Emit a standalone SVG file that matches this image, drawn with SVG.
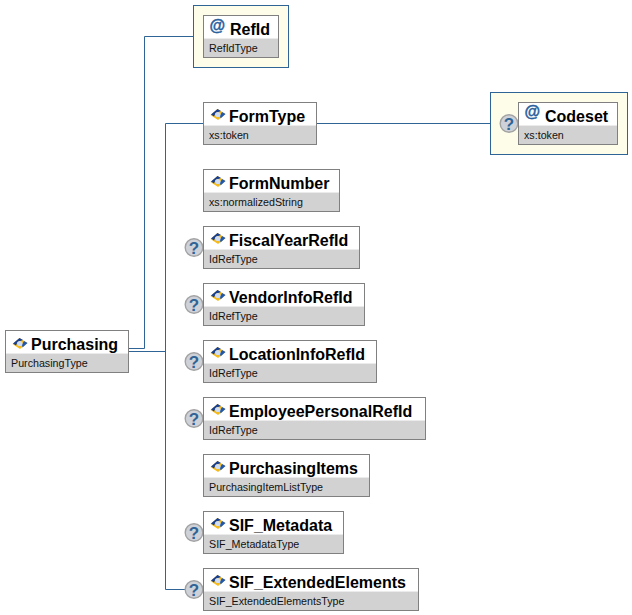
<svg xmlns="http://www.w3.org/2000/svg" width="632" height="615" viewBox="0 0 632 615">
<defs>
<style>
.conn{fill:none;stroke:#2f6496;stroke-width:1}
.attrbox{fill:#fdfdea;stroke:#2f6496;stroke-width:1}
.box{fill:#fff;stroke:#808080;stroke-width:1}
.band{fill:#d2d2d2}
.sep{fill:#ebebeb}
.name{font:bold 16px "Liberation Sans",Arial,sans-serif;fill:#000}
.type{font:10.700px "Liberation Sans",Arial,sans-serif;fill:#111}
.at{font:bold 16px "Liberation Sans",Arial,sans-serif;fill:#28609c;stroke:#28609c;stroke-width:.4}
.q{font:bold 17px "Liberation Sans",Arial,sans-serif;fill:#2f6496;text-anchor:middle}
</style>
<g id="icon">
<path d="M0 6 L7 0 L15 5 L7.500 11Z" fill="#f6bc1e"/>
<path d="M0.500 5.500 L7 0 L10.500 2 L5 4 L3.500 7.500Z" fill="#173f92"/>
<path d="M15 5 L10 9.500 L9.500 6.500 L11.500 3Z" fill="#1f58b0"/>
<circle cx="7.300" cy="5.500" r="2.600" fill="#cfdcf2"/>
</g>
<g id="qm">
<circle cx="0" cy="0" r="8.800" fill="#ced2d8" stroke="#a2a2a2" stroke-width="1.400"/>
<text class="q" x="0" y="6">?</text>
</g>
</defs>
<g id="connectors">
<path class="conn" d="M128.500 348.500H144.500V36.500H193.500"/>
<path class="conn" d="M128.500 351.500H165.500M203.500 123.500H165.500V589.500H186"/>
<path class="conn" d="M316.500 123.500H490.500"/>
</g>
<g id="node-purchasing">
<rect class="box" x="5.500" y="330.500" width="123" height="42"/>
<rect class="band" x="6" y="354" width="122" height="18"/><rect class="sep" x="6" y="353" width="122" height="1"/>
<use href="#icon" x="12.500" y="338"/>
<text class="name" x="31" y="350">Purchasing</text>
<text class="type" x="11" y="367">PurchasingType</text>
</g>
<g id="node-refid">
<rect class="attrbox" x="193.500" y="5.500" width="95" height="62"/>
<rect class="box" x="203.500" y="15.500" width="75" height="42"/>
<rect class="band" x="204" y="39" width="74" height="18"/><rect class="sep" x="204" y="38" width="74" height="1"/>
<text class="at" x="209.500" y="31">@</text>
<text class="name" x="230" y="35">RefId</text>
<text class="type" x="209" y="52">RefIdType</text>
</g>
<g id="node-formtype">
<rect class="box" x="203.500" y="102.500" width="113" height="42"/>
<rect class="band" x="204" y="126" width="112" height="18"/><rect class="sep" x="204" y="125" width="112" height="1"/>
<use href="#icon" x="210.500" y="109"/>
<text class="name" x="229" y="122">FormType</text>
<text class="type" x="209" y="139">xs:token</text>
</g>
<g id="node-codeset">
<rect class="attrbox" x="490.500" y="92.500" width="137" height="62"/>
<use href="#qm" x="509" y="123.500"/>
<rect class="box" x="518.500" y="102.500" width="99" height="42"/>
<rect class="band" x="519" y="126" width="98" height="18"/><rect class="sep" x="519" y="125" width="98" height="1"/>
<text class="at" x="524.500" y="117">@</text>
<text class="name" x="545" y="122">Codeset</text>
<text class="type" x="524" y="139">xs:token</text>
</g>
<g id="node-formnumber">
<rect class="box" x="203.500" y="169.500" width="136" height="42"/>
<rect class="band" x="204" y="193" width="135" height="18"/><rect class="sep" x="204" y="192" width="135" height="1"/>
<use href="#icon" x="210.500" y="176"/>
<text class="name" x="229" y="189">FormNumber</text>
<text class="type" x="209" y="206">xs:normalizedString</text>
</g>
<g id="node-fiscalyearrefid">
<use href="#qm" x="194" y="247.500"/>
<rect class="box" x="203.500" y="226.500" width="156" height="42"/>
<rect class="band" x="204" y="250" width="155" height="18"/><rect class="sep" x="204" y="249" width="155" height="1"/>
<use href="#icon" x="210.500" y="233"/>
<text class="name" x="229" y="246">FiscalYearRefId</text>
<text class="type" x="209" y="263">IdRefType</text>
</g>
<g id="node-vendorinforefid">
<use href="#qm" x="194" y="304.500"/>
<rect class="box" x="203.500" y="283.500" width="161" height="42"/>
<rect class="band" x="204" y="307" width="160" height="18"/><rect class="sep" x="204" y="306" width="160" height="1"/>
<use href="#icon" x="210.500" y="290"/>
<text class="name" x="229" y="303">VendorInfoRefId</text>
<text class="type" x="209" y="320">IdRefType</text>
</g>
<g id="node-locationinforefid">
<use href="#qm" x="194" y="361.500"/>
<rect class="box" x="203.500" y="340.500" width="173" height="42"/>
<rect class="band" x="204" y="364" width="172" height="18"/><rect class="sep" x="204" y="363" width="172" height="1"/>
<use href="#icon" x="210.500" y="347"/>
<text class="name" x="229" y="360">LocationInfoRefId</text>
<text class="type" x="209" y="377">IdRefType</text>
</g>
<g id="node-employeepersonalrefid">
<use href="#qm" x="194" y="418.500"/>
<rect class="box" x="203.500" y="397.500" width="222" height="42"/>
<rect class="band" x="204" y="421" width="221" height="18"/><rect class="sep" x="204" y="420" width="221" height="1"/>
<use href="#icon" x="210.500" y="404"/>
<text class="name" x="229" y="417">EmployeePersonalRefId</text>
<text class="type" x="209" y="434">IdRefType</text>
</g>
<g id="node-purchasingitems">
<rect class="box" x="203.500" y="454.500" width="166" height="42"/>
<rect class="band" x="204" y="478" width="165" height="18"/><rect class="sep" x="204" y="477" width="165" height="1"/>
<use href="#icon" x="210.500" y="461"/>
<text class="name" x="229" y="474">PurchasingItems</text>
<text class="type" x="209" y="491">PurchasingItemListType</text>
</g>
<g id="node-sif-metadata">
<use href="#qm" x="194" y="532.500"/>
<rect class="box" x="203.500" y="511.500" width="140" height="42"/>
<rect class="band" x="204" y="535" width="139" height="18"/><rect class="sep" x="204" y="534" width="139" height="1"/>
<use href="#icon" x="210.500" y="518"/>
<text class="name" x="229" y="531">SIF_Metadata</text>
<text class="type" x="209" y="548">SIF_MetadataType</text>
</g>
<g id="node-sif-extendedelements">
<use href="#qm" x="194" y="589.500"/>
<rect class="box" x="203.500" y="568.500" width="215" height="42"/>
<rect class="band" x="204" y="592" width="214" height="18"/><rect class="sep" x="204" y="591" width="214" height="1"/>
<use href="#icon" x="210.500" y="575"/>
<text class="name" x="229" y="588">SIF_ExtendedElements</text>
<text class="type" x="209" y="605">SIF_ExtendedElementsType</text>
</g>
</svg>
